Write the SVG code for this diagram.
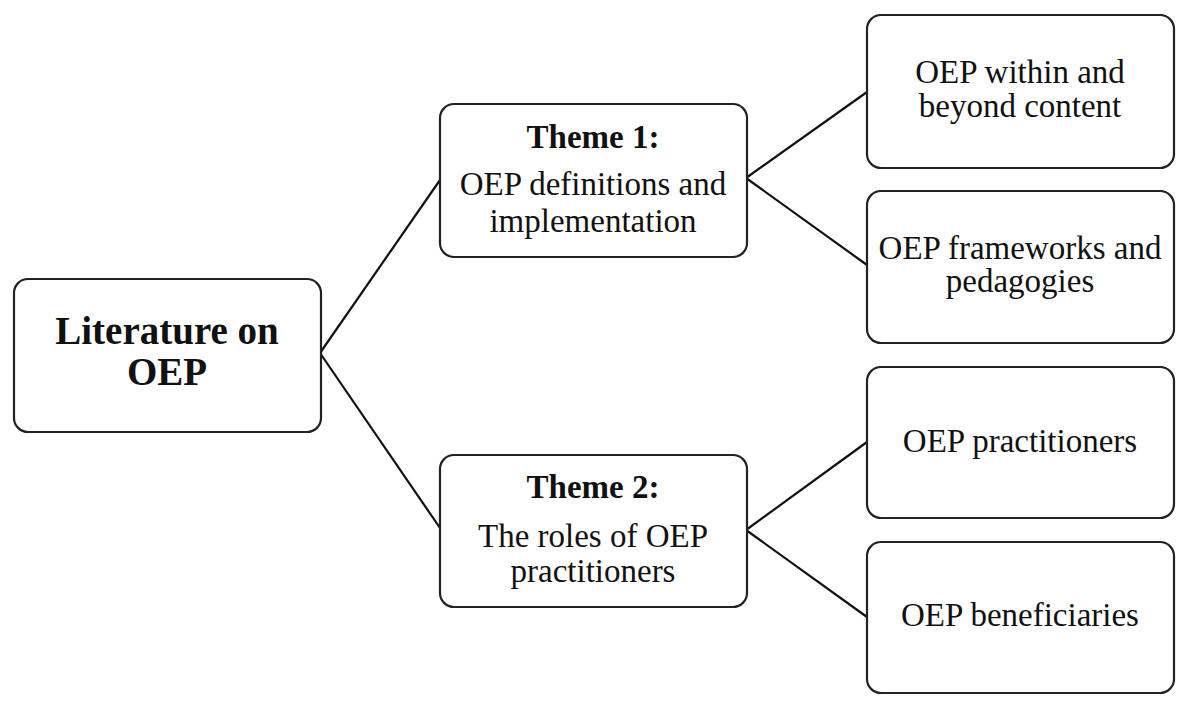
<svg xmlns="http://www.w3.org/2000/svg" width="1200" height="716" viewBox="0 0 1200 716">
<style>
.box{fill:#fff;stroke:#222;stroke-width:2.2}
.t{font-family:"Liberation Serif","Times New Roman",serif;font-size:33px;fill:#111;text-anchor:middle}
.b{font-weight:bold}
.root{font-size:39px}
.conn line{stroke:#111;stroke-width:2.2}
</style>
<rect width="1200" height="716" fill="#fff"/>
<g id="connectors" class="conn">
<line x1="320" y1="353" x2="440" y2="180"/>
<line x1="320" y1="353" x2="440" y2="528"/>
<line x1="746" y1="178" x2="867" y2="92"/>
<line x1="746" y1="178" x2="867" y2="265"/>
<line x1="746" y1="530" x2="867" y2="442"/>
<line x1="746" y1="530" x2="867" y2="617"/>
</g>
<g id="root">
<rect class="box" x="14" y="279" width="307" height="153" rx="14"/>
<text class="t b root" x="167" y="344">Literature on</text>
<text class="t b root" x="167" y="385">OEP</text>
</g>
<g id="theme1">
<rect class="box" x="440" y="104" width="307" height="153" rx="14"/>
<text class="t b" x="593" y="148">Theme 1:</text>
<text class="t" x="593" y="195">OEP definitions and</text>
<text class="t" x="593" y="232">implementation</text>
</g>
<g id="theme2">
<rect class="box" x="440" y="455" width="307" height="152" rx="14"/>
<text class="t b" x="593" y="498">Theme 2:</text>
<text class="t" x="593" y="547">The roles of OEP</text>
<text class="t" x="593" y="582">practitioners</text>
</g>
<g id="within">
<rect class="box" x="867" y="15" width="307" height="153" rx="14"/>
<text class="t" x="1020" y="83">OEP within and</text>
<text class="t" x="1020" y="117">beyond content</text>
</g>
<g id="frameworks">
<rect class="box" x="867" y="191" width="307" height="152" rx="14"/>
<text class="t" x="1020" y="259">OEP frameworks and</text>
<text class="t" x="1020" y="292">pedagogies</text>
</g>
<g id="practitioners">
<rect class="box" x="867" y="367" width="307" height="151" rx="14"/>
<text class="t" x="1020" y="452">OEP practitioners</text>
</g>
<g id="beneficiaries">
<rect class="box" x="867" y="542" width="307" height="151" rx="14"/>
<text class="t" x="1020" y="626">OEP beneficiaries</text>
</g>
</svg>
